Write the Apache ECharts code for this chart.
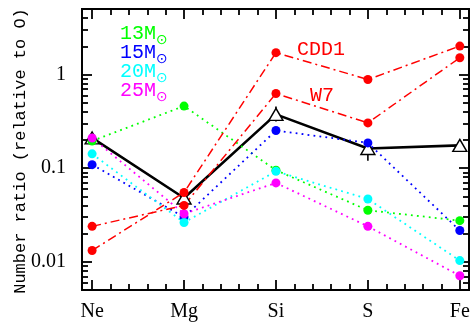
<!DOCTYPE html>
<html>
<head>
<meta charset="utf-8">
<script src="https://cdn.jsdelivr.net/npm/echarts@6/dist/echarts.min.js"></script>
<style>
  html, body { margin: 0; padding: 0; background: #fff; }
  #chart { width: 473px; height: 325px; }
</style>
</head>
<body>
<div id="chart"></div>
<script>
// elements on the x axis
var elements = ["Ne", "Mg", "Si", "S", "Fe"];
// SN II models (progenitor mass)
var m13 = [0.195, 0.46, 0.095, 0.0355, 0.0275];
var m15 = [0.109, 0.030, 0.252, 0.186, 0.0216];
var m20 = [0.142, 0.0263, 0.0925, 0.0468, 0.0103];
var m25 = [0.21, 0.0326, 0.0695, 0.0239, 0.0071];
// SN Ia models
var cdd1 = [0.0132, 0.055, 1.71, 0.884, 2.01];
var w7 = [0.0239, 0.040, 0.626, 0.304, 1.51];
// observed ratios and error range
var observed = [0.21, 0.048, 0.375, 0.162, 0.175];
var obsLow = [0.2, 0.045, 0.314, 0.12, 0.163];
var obsHigh = [0.225, 0.052, 0.455, 0.187, 0.19];
// tick labels
var yLabels = [0.01, 0.1, 1];
var xMajor = [0, 1, 2, 3, 4];
var xMinor = [];
for (var i = 1; i < 21; i++) { if (i % 5) xMinor.push(i * 0.2); }
var yMinor = [];
[0.001, 0.01, 0.1, 1].forEach(function (d) {
  for (var k = 2; k <= 9; k++) yMinor.push(d * k);
});

var serifFont = "Liberation Serif";
var monoFont = "Liberation Mono";

var myChart = echarts.init(document.getElementById("chart"));

function pts(arr) {
  return arr.map(function (v, i) { return [i, v]; });
}

function axisX(grid, pos, ticks, len, labels) {
  return {
    type: "value", gridIndex: grid, position: pos, min: -0.11, max: 4.1,
    axisLine: { show: true, onZero: false, lineStyle: { color: "#000", width: 1.8 } },
    axisTick: { show: true, inside: true, length: len, customValues: ticks, lineStyle: { color: "#000", width: 1.8 } },
    axisLabel: labels ? {
      show: true, customValues: xMajor, margin: 12, color: "#000",
      fontFamily: serifFont, fontSize: 20,
      formatter: function (v) { return elements[Math.round(v)]; }
    } : { show: false },
    splitLine: { show: false }
  };
}

function axisY(grid, pos, ticks, len, labels) {
  return {
    type: "log", logBase: 10, gridIndex: grid, position: pos, min: 0.005, max: 5,
    axisLine: { show: true, onZero: false, lineStyle: { color: "#000", width: 1.8 } },
    axisTick: { show: true, inside: true, length: len, customValues: ticks, lineStyle: { color: "#000", width: 1.8 } },
    axisLabel: labels ? {
      show: true, customValues: yLabels, margin: 16, color: "#000",
      fontFamily: serifFont, fontSize: 20,
      formatter: function (v) { return String(v); }
    } : { show: false },
    splitLine: { show: false }
  };
}

function model(name, data, color) {
  return {
    name: name, type: "line", data: pts(data), xAxisIndex: 0, yAxisIndex: 0,
    symbol: "circle", symbolSize: 9,
    itemStyle: { color: color },
    lineStyle: { color: color, width: 1.8, type: [1.8, 4.2] },
    silent: true
  };
}

function snIa(name, data) {
  return {
    name: name, type: "line", data: pts(data), xAxisIndex: 0, yAxisIndex: 0,
    symbol: "circle", symbolSize: 9,
    itemStyle: { color: "#ff0000" },
    lineStyle: { color: "#ff0000", width: 1.5, type: [9, 4, 2, 4] },
    silent: true
  };
}

function label(text, x, y, color, size, font) {
  return {
    type: "text", x: x, y: y,
    style: { text: text, fill: color, fontSize: size, fontFamily: font, verticalAlign: "middle", textAlign: "left" }
  };
}

var legendItems = [["13M", "#00ff00", 34], ["15M", "#0000ff", 53], ["20M", "#00ffff", 72], ["25M", "#ff00ff", 91]];
var graphics = [];
legendItems.forEach(function (it) {
  graphics.push(label(it[0], 120, it[2], it[1], 20, monoFont));
  graphics.push(label("\u2299", 156, it[2] + 6, it[1], 14, "DejaVu Sans"));
});
graphics.push(label("CDD1", 297, 50, "#ff0000", 20, monoFont));
graphics.push(label("W7", 310, 96, "#ff0000", 20, monoFont));
graphics.push({
  type: "text", x: 20, y: 151, rotation: Math.PI / 2,
  style: { text: "Number ratio (relative to O)", fill: "#000", fontSize: 17, fontFamily: monoFont, textAlign: "center", verticalAlign: "middle" }
});

myChart.setOption({
  animation: false,
  backgroundColor: "#fff",
  grid: [
    { left: 82, right: 4, top: 9, bottom: 35 },
    { left: 82, right: 4, top: 9, bottom: 35 }
  ],
  xAxis: [
    axisX(0, "bottom", xMajor, 10, true),
    axisX(0, "top", xMajor, 10, false),
    axisX(1, "bottom", xMinor, 6, false),
    axisX(1, "top", xMinor, 6, false)
  ],
  yAxis: [
    axisY(0, "left", yLabels, 10, true),
    axisY(0, "right", yLabels, 10, false),
    axisY(1, "left", yMinor, 6, false),
    axisY(1, "right", yMinor, 6, false)
  ],
  graphic: graphics,
  series: [
    {
      name: "observed", type: "line", data: pts(observed), xAxisIndex: 0, yAxisIndex: 0,
      symbol: "triangle", symbolSize: [14, 12],
      itemStyle: { color: "#fff", borderColor: "#000", borderWidth: 1.4 },
      lineStyle: { color: "#000", width: 2.6 },
      silent: true
    },
    {
      name: "error", type: "custom", xAxisIndex: 0, yAxisIndex: 0,
      data: obsLow.map(function (v, i) { return [i, v, obsHigh[i]]; }),
      renderItem: function (params, api) {
        var a = api.coord([api.value(0), api.value(1)]);
        var b = api.coord([api.value(0), api.value(2)]);
        return { type: "line", shape: { x1: a[0], y1: a[1], x2: b[0], y2: b[1] }, style: { stroke: "#000", lineWidth: 1.6 } };
      },
      silent: true
    },
    model("13M", m13, "#00ff00"),
    model("15M", m15, "#0000ff"),
    model("20M", m20, "#00ffff"),
    model("25M", m25, "#ff00ff"),
    snIa("CDD1", cdd1),
    snIa("W7", w7)
  ]
});
</script>
</body>
</html>
